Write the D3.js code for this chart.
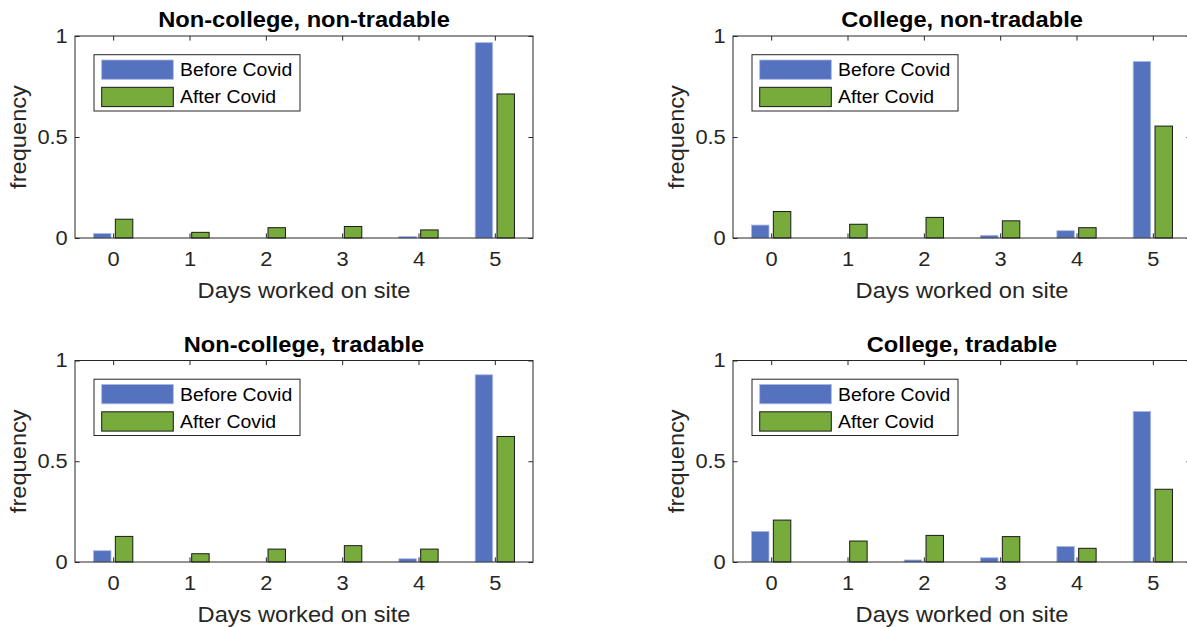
<!DOCTYPE html>
<html>
<head>
<meta charset="utf-8">
<script src="https://cdn.jsdelivr.net/npm/d3@7"></script>
<style>
  body { margin: 0; background: #fff; }
  text { font-family: "Liberation Sans", Arial, sans-serif; }
</style>
</head>
<body>
<div id="chart"></div>
<script>
// Data
const days = [0, 1, 2, 3, 4, 5];
const yTicks = [0, 0.5, 1];
const seriesNames = ["Before Covid", "After Covid"];
const panelTitles = [
    "Non-college, non-tradable",
    "College, non-tradable",
    "Non-college, tradable",
    "College, tradable"
];
const beforeNCNT = [0.022, 0, 0, 0, 0.007, 0.967];
const afterNCNT = [0.093, 0.028, 0.051, 0.057, 0.040, 0.713];
const beforeCNT = [0.064, 0, 0, 0.013, 0.036, 0.874];
const afterCNT = [0.131, 0.068, 0.102, 0.085, 0.051, 0.554];
const beforeNCT = [0.056, 0, 0, 0, 0.016, 0.929];
const afterNCT = [0.127, 0.041, 0.064, 0.081, 0.064, 0.623];
const beforeCT = [0.152, 0, 0.010, 0.021, 0.077, 0.747];
const afterCT = [0.208, 0.104, 0.132, 0.126, 0.068, 0.361];

const width = 1187;
const height = 627;

const svg = d3.select("#chart")
    .append("svg")
    .attr("width", width)
    .attr("height", height)
    .attr("viewBox", `0 0 ${width} ${height}`);

const blue = "#5472be";
const green = "#77ac3c";
const axisColor = "#262626";
const stretch = 1.1; // the figure's text runs a bit wider than Liberation Sans

// plot boxes of the four subplots
const panels = [
    { title: panelTitles[0], before: beforeNCNT, after: afterNCNT, x0: 75, x1: 533, y0: 36, y1: 238 },
    { title: panelTitles[1], before: beforeCNT, after: afterCNT, x0: 733, x1: 1191, y0: 36, y1: 238 },
    { title: panelTitles[2], before: beforeNCT, after: afterNCT, x0: 75, x1: 533, y0: 360.5, y1: 562 },
    { title: panelTitles[3], before: beforeCT, after: afterCT, x0: 733, x1: 1191, y0: 360.5, y1: 562 }
];

// MATLAB grouped bar geometry for 2 series
const groupWidth = 2 / 3.5;
const barOffset = groupWidth / 4;
const barWidth = groupWidth / 2 * 0.8;
const tickLen = 4.6;

panels.forEach(p => {
    const g = svg.append("g");

    const x = d3.scaleLinear().domain([-0.5, 5.5]).range([p.x0, p.x1]);
    const y = d3.scaleLinear().domain([0, 1]).range([p.y1, p.y0]);

    // Before Covid bars
    g.selectAll(".before")
        .data(days)
        .enter()
        .append("rect")
        .attr("class", "before")
        .attr("x", d => x(d - barOffset - barWidth / 2))
        .attr("y", d => y(p.before[d]))
        .attr("width", x(barWidth) - x(0))
        .attr("height", d => y(0) - y(p.before[d]))
        .attr("fill", blue)
        .attr("stroke", "#a8b7e4")
        .attr("stroke-width", 0.8);

    // After Covid bars
    g.selectAll(".after")
        .data(days)
        .enter()
        .append("rect")
        .attr("class", "after")
        .attr("x", d => x(d + barOffset - barWidth / 2))
        .attr("y", d => y(p.after[d]))
        .attr("width", x(barWidth) - x(0))
        .attr("height", d => y(0) - y(p.after[d]))
        .attr("fill", green)
        .attr("stroke", "#1a1a1a")
        .attr("stroke-width", 1);

    // axes, ticks pointing inward
    g.append("g")
        .attr("transform", `translate(0,${p.y1})`)
        .call(d3.axisBottom(x).tickValues(days).tickFormat(d3.format("d"))
            .tickSizeInner(-tickLen).tickSizeOuter(0).tickPadding(14));
    g.append("g")
        .attr("transform", `translate(0,${p.y0})`)
        .call(d3.axisTop(x).tickValues(days).tickFormat("")
            .tickSizeInner(-tickLen).tickSizeOuter(0));
    g.append("g")
        .attr("transform", `translate(${p.x0},0)`)
        .call(d3.axisLeft(y).tickValues(yTicks).tickFormat(d3.format("~g"))
            .tickSizeInner(-tickLen).tickSizeOuter(0).tickPadding(6.5));
    g.append("g")
        .attr("transform", `translate(${p.x1},0)`)
        .call(d3.axisRight(y).tickValues(yTicks).tickFormat("")
            .tickSizeInner(-tickLen).tickSizeOuter(0));

    g.selectAll(".domain").remove();
    g.selectAll(".tick line").attr("stroke", axisColor).attr("stroke-width", 1);
    g.selectAll(".tick text")
        .attr("fill", axisColor)
        .attr("transform", "scale(1.12,1)")
        .style("font-size", "19.5px");

    // box around plot
    g.append("rect")
        .attr("x", p.x0)
        .attr("y", p.y0)
        .attr("width", p.x1 - p.x0)
        .attr("height", p.y1 - p.y0)
        .attr("fill", "none")
        .attr("stroke", axisColor)
        .attr("stroke-width", 1);

    // title
    g.append("text")
        .attr("transform", `translate(${(p.x0 + p.x1) / 2},${p.y0 - 9}) scale(${stretch},1)`)
        .style("text-anchor", "middle")
        .style("font-size", "21.5px")
        .style("font-weight", "bold")
        .style("fill", "#000")
        .text(p.title);

    // x-axis label
    g.append("text")
        .attr("transform", `translate(${(p.x0 + p.x1) / 2},${p.y1 + 60}) scale(${stretch},1)`)
        .style("text-anchor", "middle")
        .style("font-size", "21.5px")
        .style("fill", axisColor)
        .text("Days worked on site");

    // y-axis label
    g.append("text")
        .attr("transform", `translate(${p.x0 - 49},${(p.y0 + p.y1) / 2}) rotate(-90) scale(${stretch},1)`)
        .style("text-anchor", "middle")
        .style("font-size", "21.5px")
        .style("fill", axisColor)
        .text("frequency");

    // legend
    const lg = g.append("g").attr("transform", `translate(${p.x0 + 19},${p.y0 + 18.7})`);
    lg.append("rect")
        .attr("width", 206)
        .attr("height", 56.3)
        .attr("fill", "#fff")
        .attr("stroke", axisColor)
        .attr("stroke-width", 1);
    const legendColors = [blue, green];
    const legendStroke = ["#a8b7e4", "#1a1a1a"];
    seriesNames.forEach((name, i) => {
        lg.append("rect")
            .attr("x", 7.7)
            .attr("y", 5.3 + i * 27.3)
            .attr("width", 71.6)
            .attr("height", 19.3)
            .attr("fill", legendColors[i])
            .attr("stroke", legendStroke[i])
            .attr("stroke-width", i === 0 ? 0.8 : 1);
        lg.append("text")
            .attr("transform", `translate(86,${5.3 + i * 27.3 + 9.65}) scale(1.05,1)`)
            .attr("dy", "0.35em")
            .style("font-size", "18.5px")
            .style("fill", "#000")
            .text(name);
    });
});
</script>
</body>
</html>
